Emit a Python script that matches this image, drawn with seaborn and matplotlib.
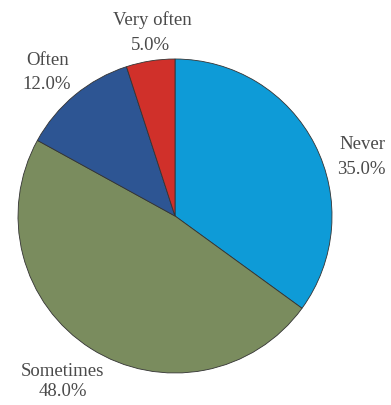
import matplotlib
matplotlib.use("Agg")
import matplotlib.pyplot as plt
import seaborn as sns

categories = ["Never", "Sometimes", "Often", "Very often"]
values = [35.0, 48.0, 12.0, 5.0]
colors = ["#0E9BD7", "#7A8C5E", "#2D5593", "#D0302A"]

sns.set_theme(style="white")
plt.rcParams['font.family'] = ['Liberation Serif', 'DejaVu Serif']

fig = plt.figure(figsize=(3.91, 4.06), dpi=100)
ax = fig.add_axes([0, 0, 1, 1])

cx, cy, R = 175.0, 217.0, 157.0
W, H = 391.0, 406.0

wedges, _ = ax.pie(values, colors=colors, startangle=90, counterclock=False,
                   radius=1.0, center=(0, 0),
                   wedgeprops=dict(edgecolor="#333333", linewidth=0.6))
ax.set_xlim((0 - cx) / R, (W - cx) / R)
ax.set_ylim((cy - H) / R, cy / R)
ax.set_aspect("equal")
ax.axis("off")

def px(x, y):
    return (x - cx) / R, (cy - y) / R

# (name x, name y, pct x, pct y) in pixels
label_pos = {
    "Never": (362, 145, 361, 170),
    "Sometimes": (62, 372, 63, 392),
    "Often": (48, 61, 47, 85),
    "Very often": (152, 20, 150, 46),
}
for cat, v in zip(categories, values):
    x1, y1, x2, y2 = label_pos[cat]
    ax.text(*px(x1, y1), cat, ha="center", va="center", fontsize=13.5, color="#4a4a4a")
    ax.text(*px(x2, y2), f"{v:.1f}%", ha="center", va="center", fontsize=13.5, color="#4a4a4a")

fig.savefig("out.png", dpi=100)
